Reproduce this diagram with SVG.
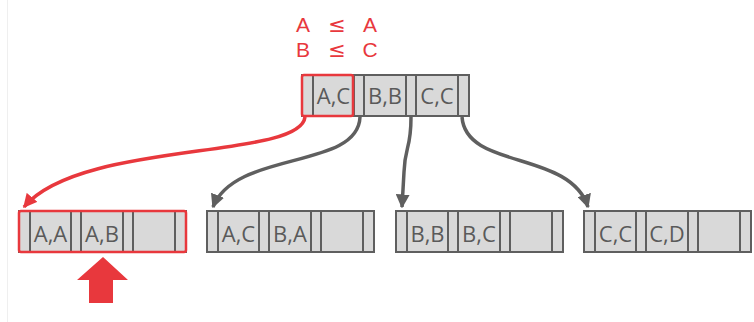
<svg xmlns="http://www.w3.org/2000/svg" xmlns:xlink="http://www.w3.org/1999/xlink" width="754" height="322" viewBox="0 0 754 322">
<style>
.cell{fill:#d9d9d9;stroke:#5f5f5f;stroke-width:2}
.div{stroke:#5f5f5f;stroke-width:2}
.key{font-family:"Open Sans","DejaVu Sans",sans-serif;font-size:22px;fill:#5a5a5a;text-anchor:middle}
.cond{font-family:"Liberation Sans","DejaVu Sans",sans-serif;font-size:21px;fill:#e8383d;text-anchor:middle}
.le{font-family:"DejaVu Sans",sans-serif;font-size:21px;fill:#e8383d;text-anchor:middle}
.hl{fill:none;stroke:#e8383d;stroke-width:2.5}
.edge{fill:none;stroke:#5f5f5f;stroke-width:3.5}
.edge-red{fill:none;stroke:#e8383d;stroke-width:3.5}
</style>
<defs>
<marker id="ah" viewBox="0 0 10 10" refX="9" refY="5" markerWidth="4" markerHeight="4" orient="auto" markerUnits="strokeWidth">
<path d="M0,0 L10,5 L0,10 z" fill="#5f5f5f"/>
</marker>
<marker id="ahr" viewBox="0 0 10 10" refX="9" refY="5" markerWidth="4" markerHeight="4" orient="auto" markerUnits="strokeWidth">
<path d="M0,0 L10,5 L0,10 z" fill="#e8383d"/>
</marker>
<g id="shape">
<rect class="cell" x="0" y="0" width="167" height="41"/>
<path class="div" d="M11,0V41M52,0V41M62,0V41M104,0V41M114,0V41M156,0V41"/>
</g>
</defs>
<rect width="754" height="322" fill="#ffffff"/>
<line x1="7.5" y1="0" x2="7.5" y2="322" stroke="#efefef" stroke-width="1"/>

<g id="condition">
<text class="cond" x="303" y="32">A</text>
<text class="le" x="337" y="32">≤</text>
<text class="cond" x="370" y="32">A</text>
<text class="cond" x="303" y="57">B</text>
<text class="le" x="337" y="57">≤</text>
<text class="cond" x="370" y="57">C</text>
</g>

<g id="connectors">
<path class="edge-red" d="M305,117 C300,160 80,140 24,207" marker-end="url(#ahr)"/>
<path class="edge" d="M360,117 C358,170 235,150 213,207" marker-end="url(#ah)"/>
<path class="edge" d="M411,117 C411,150 405,145 404,172 L402,207" marker-end="url(#ah)"/>
<path class="edge" d="M462,117 C466,170 570,150 588,207" marker-end="url(#ah)"/>
</g>

<g id="root">
<use xlink:href="#shape" x="302" y="75"/>
<text class="key" x="333.5" y="104">A,C</text>
<text class="key" x="385" y="104">B,B</text>
<text class="key" x="437" y="104">C,C</text>
<rect class="hl" x="302" y="75" width="51" height="41" rx="2"/>
</g>

<g id="leaf1">
<use xlink:href="#shape" x="19" y="211"/>
<text class="key" x="50.5" y="242">A,A</text>
<text class="key" x="102" y="242">A,B</text>
<rect class="hl" x="19" y="211" width="167" height="41" rx="2"/>
</g>

<g id="leaf2">
<use xlink:href="#shape" x="207" y="211"/>
<text class="key" x="238.5" y="242">A,C</text>
<text class="key" x="290" y="242">B,A</text>
</g>

<g id="leaf3">
<use xlink:href="#shape" x="396" y="211"/>
<text class="key" x="427.5" y="242">B,B</text>
<text class="key" x="479" y="242">B,C</text>
</g>

<g id="leaf4">
<use xlink:href="#shape" x="584" y="211"/>
<text class="key" x="615.5" y="242">C,C</text>
<text class="key" x="667" y="242">C,D</text>
</g>

<g id="pointer">
<polygon points="103,257 128,280 113,280 113,303 89,303 89,280 77,280" fill="#e8383d"/>
</g>
</svg>
